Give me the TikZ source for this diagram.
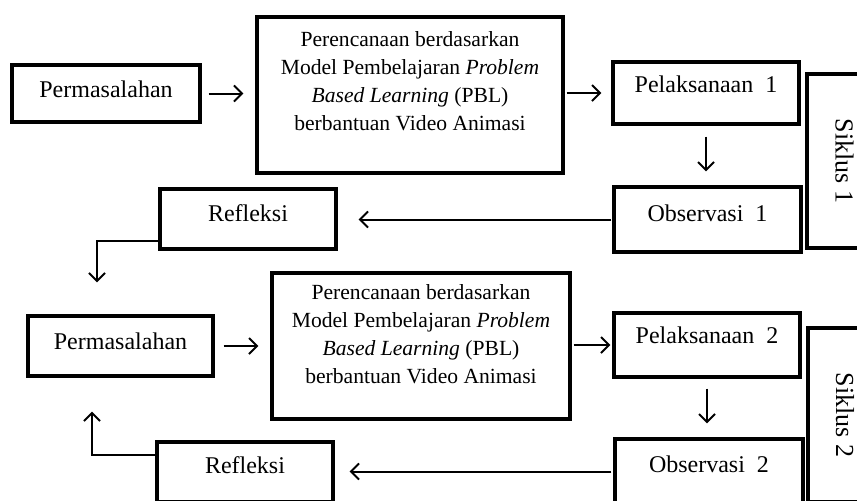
\documentclass[tikz,border=0pt]{standalone}
\usepackage{fontspec}
\setmainfont{Liberation Serif}
\usetikzlibrary{arrows.meta}

\tikzset{
	box/.style={draw, line width=1.6pt, inner sep=0pt, align=center, font=\fontsize{12}{14}\selectfont},
	plantext/.style={font=\fontsize{10.8}{14}\selectfont},
	siklustext/.style={font=\fontsize{13}{14}\selectfont},
	oneline/.style={text height=8pt, text depth=#1},
	arr/.style={-{Straight Barb[length=4pt,width=8pt]}, line width=1pt}
}

\begin{document}
\begin{tikzpicture}[x=0.5pt, y=-0.5pt]
	\useasboundingbox (0,0) rectangle (857,500);
	\clip (0,0) rectangle (857,500);
	
	% siklus 1
	\node[box, minimum width=94pt, minimum height=28.5pt, oneline=3.6pt] (perm1) at (106,93.5) {Permasalahan};
	\node[box, plantext, minimum width=153pt, minimum height=78pt, text depth=14.5pt] (plan1) at (410,95) {Perencanaan berdasarkan\\Model Pembelajaran \textit{Problem}\\\textit{Based Learning} (PBL)\\berbantuan Video Animasi};
	\node[box, minimum width=93pt, minimum height=31pt, oneline=8.1pt] (pel1) at (706,93) {Pelaksanaan~~1};
	\node[box, minimum width=93.5pt, minimum height=32.5pt, oneline=6.1pt] (obs1) at (707.5,219.5) {Observasi~~1};
	\node[box, minimum width=88pt, minimum height=30pt, oneline=5.6pt] (ref1) at (248,219) {Refleksi};
	\node[box, siklustext, rotate=-90, minimum width=87pt, minimum height=36.5pt, oneline=0.1pt] (sik1) at (843.5,161) {Siklus 1};
	
	% siklus 2
	\node[box, minimum width=92.5pt, minimum height=30pt, oneline=4.6pt] (perm2) at (120.5,346) {Permasalahan};
	\node[box, plantext, minimum width=149pt, minimum height=73pt, text depth=12.5pt] (plan2) at (421,346) {Perencanaan berdasarkan\\Model Pembelajaran \textit{Problem}\\\textit{Based Learning} (PBL)\\berbantuan Video Animasi};
	\node[box, minimum width=93pt, minimum height=32pt, oneline=9.6pt] (pel2) at (707,345) {Pelaksanaan~~2};
	\node[box, minimum width=94pt, minimum height=32.5pt, oneline=7.1pt] (obs2) at (709,471.5) {Observasi~~2};
	\node[box, minimum width=88pt, minimum height=30pt, oneline=6.6pt] (ref2) at (245,472) {Refleksi};
	\node[box, siklustext, rotate=-90, minimum width=87pt, minimum height=36pt, oneline=0.1pt] (sik2) at (844,415) {Siklus 2};
	
	% alur
	\draw[arr, shorten <=3.5pt, shorten >=6pt] (perm1.east) -- (perm1.east -| plan1.west);
	\draw[arr, shorten <=1pt, shorten >=5pt] (plan1.east |- pel1.west) -- (pel1.west);
	\draw[arr, shorten <=5.5pt, shorten >=7pt] (pel1.south) -- (pel1.south |- obs1.north);
	\draw[arr, shorten <=0.5pt, shorten >=10.5pt] (obs1.west) -- (obs1.west -| ref1.east);
	\draw[arr, shorten >=16pt] ([yshift=-11pt]ref1.west) -| ([xshift=-11.75pt]perm2.north);
	
	\draw[arr, shorten <=4.5pt, shorten >=6pt] (perm2.east) -- (perm2.east -| plan2.west);
	\draw[arr, shorten <=1pt, shorten >=1pt] (plan2.east |- pel2.west) -- (pel2.west);
	\draw[arr, shorten <=5pt, shorten >=7pt] (pel2.south) -- (pel2.south |- obs2.north);
	\draw[arr, shorten <=1pt, shorten >=7.5pt] (obs2.west) -- (obs2.west -| ref2.east);
	\draw[arr, shorten >=17pt] ([yshift=8.5pt]ref2.west) -| ([xshift=-14.25pt]perm2.south);
	
\end{tikzpicture}
\end{document}
